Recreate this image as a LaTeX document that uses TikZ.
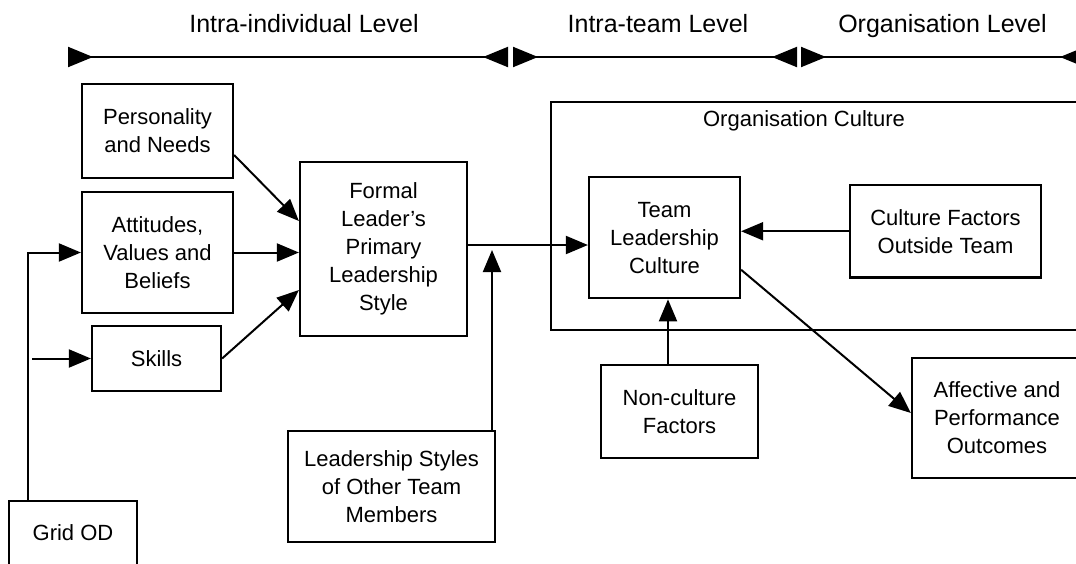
\documentclass[tikz,border=0pt]{standalone}
\usepackage{fontspec}
\setmainfont{Liberation Sans}
\usetikzlibrary{arrows.meta}
\newcommand\bxfont{\fontsize{22}{28}\selectfont}
\newcommand\hdfont{\fontsize{25}{30}\selectfont}
\tikzset{
  box/.style={draw, line width=2.2pt, inner sep=0pt, align=center, font=\bxfont, anchor=center},
  arr/.style={line width=2pt, -{Triangle[length=22pt,width=18pt]}},
  lev/.style={line width=2pt, {Triangle[length=25pt,width=20pt,reversed]}-{Triangle[length=25pt,width=20pt,reversed]}},
  hd/.style={font=\hdfont, anchor=base, inner sep=0pt},
}
\begin{document}
\begin{tikzpicture}[x=1pt,y=-1pt]
\useasboundingbox (0,0) rectangle (1076,563);
\clip (0,0) rectangle (1076,563);
\fill[white] (0,0) rectangle (1076,563);

% level bars
\coordinate (L1a) at (68,57);
\coordinate (L1b) at (508,57);
\coordinate (L2a) at (513,57);
\coordinate (L2b) at (797,57);
\coordinate (L3a) at (801,57);
\coordinate (L3b) at (1085,57);
\draw[lev] (L1a) -- (L1b);
\draw[lev] (L2a) -- (L2b);
\draw[lev] (L3a) -- (L3b);
\node[hd] (h1) at (304,32) {Intra-individual Level};
\node[hd] (h2) at (658,32) {Intra-team Level};
\node[hd] (h3) at (942.5,32) {Organisation Level};

% boxes
\node[box, minimum width=151pt, minimum height=94pt] (pers) at (157.5,131) {Personality\\and Needs};
\node[box, minimum width=151pt, minimum height=121pt] (att) at (157.5,252.5) {Attitudes,\\Values and\\Beliefs};
\node[box, minimum width=129pt, minimum height=65pt] (skills) at (156.5,358.5) {Skills};
\node[box, minimum width=128pt, minimum height=64pt] (grid) at (73,533) {Grid OD};
\node[box, minimum width=167pt, minimum height=174pt] (formal) at (383.5,249) {Formal\\Leader’s\\Primary\\Leadership\\Style};
\node[box, minimum width=207pt, minimum height=111pt] (lsty) at (391.5,486.5) {Leadership Styles\\of Other Team\\Members};
\node[box, minimum width=549pt, minimum height=228pt] (org) at (825.5,216) {};
\node[font=\bxfont, inner sep=0pt] (orglab) at (804,121) {Organisation Culture};
\node[box, minimum width=151pt, minimum height=121pt] (team) at (664.5,237.75) {Team\\Leadership\\Culture};
\node[box, minimum width=191pt, minimum height=92.5pt] (cult) at (945.5,231.25) {Culture Factors\\Outside Team};
\node[box, minimum width=157pt, minimum height=93pt] (noncult) at (679.5,411.5) {Non-culture\\Factors};
\node[box, minimum width=170pt, minimum height=120pt] (aff) at (997,418) {Affective and\\Performance\\Outcomes};

% connectors
\draw[arr] ([yshift=-24pt]pers.east) -- ([yshift=28pt]formal.west);
\draw[arr] (att.east) -- (att.east -| formal.west);
\draw[arr] (skills.east) -- ([yshift=-41pt]formal.west);
\draw[arr] ([yshift=4pt]formal.east) -- ([yshift=4pt]formal.east -| team.west);
\coordinate (j) at (492,250);
\draw[arr] (lsty.north -| j) -- (j);
\draw[arr] (cult.west) -- (cult.west -| team.east);
\draw[arr] ([yshift=-32pt]team.east) -- ([yshift=5pt]aff.west);
\draw[arr] ([xshift=-11.5pt]noncult.north) -- ([xshift=-11.5pt]noncult.north |- team.south);
\draw[arr] ([xshift=-45pt]grid.north) |- (att.west);
\coordinate (sk0) at (32,358.5);
\draw[arr] (sk0) -- (skills.west);
\end{tikzpicture}
\end{document}
